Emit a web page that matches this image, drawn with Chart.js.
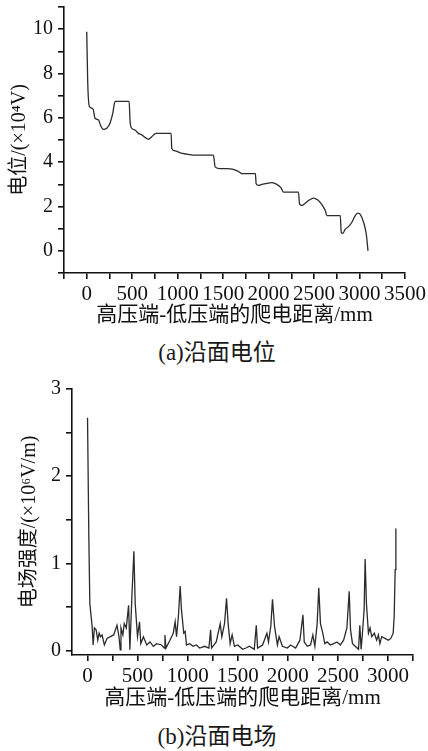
<!DOCTYPE html>
<html>
<head>
<meta charset="utf-8">
<script src="https://cdn.jsdelivr.net/npm/chart.js@4.4.0/dist/chart.umd.min.js"></script>
<style>
body { margin: 0; background: #fff; width: 428px; height: 751px; overflow: hidden; position: relative;
       font-family: "Liberation Serif", "Noto Sans CJK SC", serif; }
.box { position: absolute; left: 0; width: 428px; }
.cap { position: absolute; left: 0; width: 434px; text-align: center; font-size: 23px; line-height: 23px; color: #1a1a1a; }
</style>
</head>
<body>
<div class="box" style="top:0;height:335px"><canvas id="potChart"></canvas></div>
<div class="cap" style="top:341px">(a)沿面电位</div>
<div class="box" style="top:375px;height:340px"><canvas id="fieldChart"></canvas></div>
<div class="cap" style="top:725px">(b)沿面电场</div>
<script>
// (a) 沿面电位, x: mm, y: ×10^4 V
const potDist = [0, 11, 29, 55, 73, 91, 128, 154, 183, 220, 256, 286, 311, 466, 477, 495, 530, 568, 605, 641,
  678, 715, 763, 928, 935, 972, 1027, 1100, 1173, 1228, 1393, 1412, 1467, 1541, 1613, 1690, 1700, 1855,
  1863, 1889, 1926, 1962, 2036, 2091, 2135, 2164, 2329, 2340, 2366, 2403, 2439, 2494, 2538, 2587, 2623,
  2641, 2788, 2799, 2817, 2843, 2879, 2916, 2953, 2979, 3008, 3044, 3074, 3093];
const potValue = [9.88, 7.58, 6.51, 6.44, 6.36, 5.98, 5.91, 5.64, 5.48, 5.53, 5.76, 6.2, 6.74, 6.74, 5.83, 5.53, 5.45, 5.30, 5.23, 5.12,
  5.03, 5.15, 5.30, 5.30, 4.62, 4.51, 4.42, 4.36, 4.32, 4.32, 4.32, 3.79, 3.71, 3.71, 3.67, 3.52, 3.48, 3.48,
  3.03, 2.95, 3.0, 3.03, 3.08, 3.0, 2.85, 2.65, 2.65, 2.12, 2.05, 2.15, 2.27, 2.38, 2.30, 2.08, 1.82,
  1.59, 1.59, 0.83, 0.79, 0.98, 1.09, 1.29, 1.59, 1.70, 1.64, 1.29, 0.76, 0];

// (b) 沿面电场, x: mm, y: ×10^6 V/m
const fieldDist = [0, 13, 23, 36, 46, 56, 69, 86, 102, 116, 129, 145, 168, 195, 228, 261, 294, 314, 327, 334,
  353, 367, 387, 410, 423, 443, 463, 476, 499, 519, 532, 558, 591, 624, 657, 690, 740, 766, 773, 783,
  823, 856, 875, 889, 908, 925, 938, 961, 975, 988, 1021, 1054, 1087, 1120, 1169, 1212, 1229, 1239, 1285, 1325,
  1341, 1368, 1388, 1404, 1424, 1444, 1467, 1500, 1549, 1582, 1615, 1665, 1685, 1698, 1748, 1791, 1807, 1830, 1847, 1867,
  1896, 1913, 1946, 1995, 2028, 2078, 2121, 2151, 2164, 2194, 2227, 2250, 2270, 2293, 2309, 2326, 2349, 2369, 2392, 2425,
  2458, 2491, 2524, 2557, 2590, 2613, 2626, 2646, 2673, 2706, 2719, 2732, 2745, 2762, 2772, 2785, 2805, 2821, 2838, 2864,
  2887, 2904, 2920, 2937, 2970, 3003, 3029, 3052, 3062, 3072, 3079];
const fieldValue = [2.67, 1.31, 0.54, 0.39, 0.28, 0.065, 0.26, 0.24, 0.12, 0.20, 0.16, 0.18, 0.065, 0.14, 0.16, 0.18, 0.29, 0.16, 0.01, 0.26,
  0.18, 0.31, 0.26, 0.52, 0.01, 0.62, 1.14, 0.54, 0.16, 0.33, 0.08, 0.16, 0.065, 0.10, 0.05, 0.08, 0.065, 0.03, 0.18, 0.03,
  0.12, 0.20, 0.33, 0.16, 0.40, 0.74, 0.47, 0.20, 0.22, 0.065, 0.08, 0.05, 0.065, 0.03, 0.05, 0.03, 0.24, 0.03, 0.10, 0.31,
  0.16, 0.31, 0.60, 0.31, 0.08, 0.18, 0.05, 0.065, 0.015, 0.03, 0.05, 0.015, 0.29, 0.03, 0.065, 0.20, 0.10, 0.28, 0.59, 0.28,
  0.065, 0.16, 0.05, 0.03, 0.065, 0.03, 0.12, 0.41, 0.10, 0.05, 0.065, 0.18, 0.05, 0.31, 0.72, 0.31, 0.20, 0.08, 0.10, 0.065,
  0.08, 0.10, 0.065, 0.12, 0.26, 0.68, 0.24, 0.08, 0.05, 0.015, 0.29, 0.015, 0.20, 0.47, 1.05, 0.54, 0.20, 0.26, 0.16, 0.20,
  0.12, 0.18, 0.08, 0.16, 0.14, 0.12, 0.14, 0.20, 0.39, 0.93, 1.40];

const potTicksY = [0, 2, 4, 6, 8, 10];
const fieldTicksY = [0, 1, 2, 3];
const ticksX = [0, 500, 1000, 1500, 2000, 2500, 3000, 3500];

const serif = "'Liberation Serif', 'Noto Sans CJK SC', serif";

function axisStyle(opts) {
    return {
        type: 'linear',
        min: opts.min,
        max: opts.max,
        ticks: {
            stepSize: opts.step,
            includeBounds: false,
            autoSkip: false,
            maxRotation: 0,
            minRotation: 0,
            padding: opts.pad,
            color: '#111',
            font: { family: serif, size: opts.size },
            callback: v => opts.labels.includes(v) ? String(v) : ''
        },
        grid: {
            display: true,
            drawOnChartArea: false,
            drawTicks: true,
            tickLength: 6,
            color: '#111',
            lineWidth: 1.6,
            tickColor: '#111',
            tickWidth: 1.6
        },
        border: { display: true, color: '#111', width: 1.6 },
        title: {
            display: true,
            text: opts.title,
            color: '#111',
            font: { family: serif, size: opts.titleSize },
            padding: opts.titlePad
        },
        afterFit: opts.fit
    };
}

function makeChart(id, xs, ys, cfg) {
    const ctx = document.getElementById(id).getContext('2d');
    return new Chart(ctx, {
        type: 'line',
        data: {
            datasets: [{
                data: xs.map((x, i) => ({ x: x, y: ys[i] })),
                borderColor: '#2b2b2b',
                borderWidth: 1.3,
                pointRadius: 0,
                fill: false,
                cubicInterpolationMode: cfg.smooth ? 'monotone' : 'default',
                tension: 0
            }]
        },
        options: {
            responsive: true,
            maintainAspectRatio: false,
            animation: false,
            layout: { padding: cfg.padding },
            plugins: { legend: { display: false }, tooltip: { enabled: false } },
            scales: { x: cfg.x, y: cfg.y }
        }
    });
}

makeChart('potChart', potDist, potValue, {
    smooth: true,
    padding: { left: 0, right: 23, top: 7, bottom: 7 },
    x: axisStyle({
        min: -250, max: 3500, step: 250, labels: ticksX, size: 21, pad: 3,
        title: '高压端-低压端的爬电距离/mm', titleSize: 21, titlePad: { top: 0, bottom: 0 },
        fit: s => { s.height = 55; s.paddingLeft = 0; s.paddingRight = 0; }
    }),
    y: axisStyle({
        min: -1, max: 11, step: 1, labels: potTicksY, size: 20, pad: 5,
        title: '电位/(×10⁴V)', titleSize: 20, titlePad: { top: 8, bottom: 0 },
        fit: s => { s.width = 64; s.paddingTop = 0; s.paddingBottom = 0; }
    })
});

makeChart('fieldChart', fieldDist, fieldValue, {
    smooth: false,
    padding: { left: 0, right: 15, top: 14, bottom: 4 },
    x: axisStyle({
        min: -155, max: 3250, step: 250, labels: ticksX, size: 21, pad: 3,
        title: '高压端-低压端的爬电距离/mm', titleSize: 21, titlePad: { top: 0, bottom: 0 },
        fit: s => { s.height = 56; s.paddingLeft = 0; s.paddingRight = 0; }
    }),
    y: axisStyle({
        min: -0.05, max: 3, step: 0.5, labels: fieldTicksY, size: 20, pad: 5,
        title: '电场强度/(×10⁶V/m)', titleSize: 20, titlePad: { top: 18, bottom: 0 },
        fit: s => { s.width = 72; s.paddingTop = 0; s.paddingBottom = 0; }
    })
});
</script>
</body>
</html>
